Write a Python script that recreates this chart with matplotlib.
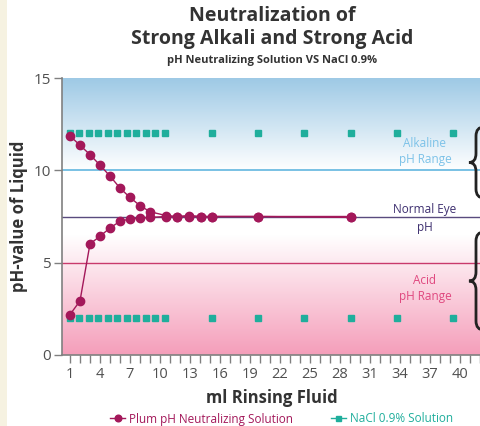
import numpy as np
import matplotlib
matplotlib.use("Agg")
import matplotlib.pyplot as plt
from matplotlib.path import Path
from matplotlib.patches import PathPatch, Rectangle
from matplotlib.ticker import FixedLocator, FuncFormatter

plt.rcParams['font.family'] = ['Open Sans', 'DejaVu Sans']

# datos
ml_plum = [1, 2, 3, 4, 5, 6, 7, 8, 9, 10.6, 11.7, 12.9, 14.1, 15.2, 19.8, 29.1]
ph_alkali = [11.86, 11.36, 10.85, 10.28, 9.69, 9.04, 8.53, 8.09, 7.76, 7.55,
             7.5, 7.55, 7.5, 7.5, 7.5, 7.45]
ph_acid = [2.19, 2.93, 6.02, 6.43, 6.88, 7.24, 7.37, 7.4, 7.45, 7.5,
           7.5, 7.5, 7.5, 7.5, 7.5, 7.5]
ml_nacl = [1, 1.95, 2.9, 3.85, 4.8, 5.75, 6.7, 7.65, 8.6, 9.55, 10.5,
           15.2, 19.8, 24.4, 29.1, 33.7, 39.3]
ph_nacl_high = [12] * len(ml_nacl)
ph_nacl_low = [2] * len(ml_nacl)

x_labels = list(range(1, 41, 3))
y_ticks = [0, 5, 10, 15]

plum = '#a3185a'
teal = '#1fae9c'

fig = plt.figure(figsize=(4.81, 4.26), dpi=100)
fig.patch.set_facecolor('white')
fig.add_artist(Rectangle((0, 0), 7 / 481, 1, transform=fig.transFigure,
                         facecolor='#f6f2e1', edgecolor='none', zorder=-5))

ax = fig.add_axes([62 / 481, 1 - 355 / 426, 1 - 62 / 481 + 0.002, (355 - 78) / 426])
xmin, xmax = 0.2, 42.2
ax.set_xlim(xmin, xmax)
ax.set_ylim(0, 15)

# fondo degradado: azul arriba, rosa abajo
yy = np.linspace(0, 15, 400)
blue = np.array([0.62, 0.79, 0.90])
pink = np.array([0.96, 0.62, 0.73])
white = np.array([1.0, 1.0, 1.0])
img = np.zeros((len(yy), 2, 3))
for i, y in enumerate(yy):
    if y > 10:
        f = (y - 10) / 5
        c = white * (1 - f) + blue * f
    elif y < 6.5:
        f = (6.5 - y) / 6.5
        c = white * (1 - f) + pink * f
    else:
        c = white
    img[i, :, :] = c
ax.imshow(img, extent=[xmin, xmax, 0, 15], aspect='auto', origin='lower', zorder=0)

ax.axhline(10, color='#62b7df', lw=1.2, zorder=1)
ax.axhline(7.5, color='#594b7e', lw=1.0, zorder=1)
ax.axhline(5, color='#c93a6c', lw=1.0, zorder=1)

ax.plot(ml_nacl, ph_nacl_high, 's', color=teal, ms=4.5, zorder=3,
        label='NaCl 0.9% Solution')
ax.plot(ml_nacl, ph_nacl_low, 's', color=teal, ms=4.5, zorder=3)
ax.plot(ml_plum, ph_alkali, '-o', color=plum, ms=6, lw=1, zorder=4,
        label='Plum pH Neutralizing Solution')
ax.plot(ml_plum, ph_acid, '-o', color=plum, ms=6, lw=1, zorder=4)

ax.text(36.5, 11.0, 'Alkaline\npH Range', color='#7cc2e8', fontsize=8.5,
        ha='center', va='center', linespacing=1.3)
ax.text(36.5, 7.4, 'Normal Eye\npH', color='#3e3070', fontsize=8.5,
        ha='center', va='center', linespacing=1.5)
ax.text(36.5, 3.6, 'Acid\npH Range', color='#e0487f', fontsize=8.5,
        ha='center', va='center', linespacing=1.3)

for side in ['top', 'right']:
    ax.spines[side].set_visible(False)
for side in ['left', 'bottom']:
    ax.spines[side].set_color('#808080')
    ax.spines[side].set_linewidth(1.2)

ax.set_yticks(y_ticks)
ax.xaxis.set_major_locator(FixedLocator(list(range(1, 43))))
ax.xaxis.set_major_formatter(FuncFormatter(
    lambda v, p: str(int(v)) if int(v) in x_labels else ''))
ax.tick_params(axis='both', direction='out', length=6, width=1, colors='#808080',
               labelcolor='#505050')
ax.tick_params(axis='x', labelsize=10.5, pad=3)
ax.tick_params(axis='y', labelsize=11, pad=2)

ax.set_xlabel('ml Rinsing Fluid', fontsize=12, fontweight='bold', color='#333333',
              labelpad=5)
ax.set_ylabel('pH-value of Liquid', fontsize=12, fontweight='bold', color='#333333',
              labelpad=4)


def brace(y_top, y_bot, x_tip=469, x_mid=476, x_end=484, r=9):
    # llave "{" en pixeles de la figura
    w, h = fig.bbox.width, fig.bbox.height
    ym = (y_top + y_bot) / 2
    pts = [(x_end, y_top), (x_mid, y_top), (x_mid, y_top + r),
           (x_mid, ym - r),
           (x_mid, ym), (x_tip, ym),
           (x_mid, ym), (x_mid, ym + r),
           (x_mid, y_bot - r),
           (x_mid, y_bot), (x_end, y_bot)]
    pts = [(px / w, 1 - py / h) for px, py in pts]
    codes = [Path.MOVETO, Path.CURVE3, Path.CURVE3,
             Path.LINETO,
             Path.CURVE3, Path.CURVE3,
             Path.CURVE3, Path.CURVE3,
             Path.LINETO,
             Path.CURVE3, Path.CURVE3]
    fig.add_artist(PathPatch(Path(pts, codes), transform=fig.transFigure,
                             facecolor='none', edgecolor='#222222', lw=2.0))


brace(127, 198)
brace(232, 330)

fig.text(0.565, 1 - 16 / 426, 'Neutralization of', ha='center', va='center',
         fontsize=14, fontweight='bold', color='#333333')
fig.text(0.565, 1 - 39 / 426, 'Strong Alkali and Strong Acid', ha='center',
         va='center', fontsize=14, fontweight='bold', color='#333333')
fig.text(0.565, 1 - 61 / 426, 'pH Neutralizing Solution VS NaCl 0.9%', ha='center',
         va='center', fontsize=8, fontweight='bold', color='#333333')

handles, labels = ax.get_legend_handles_labels()
leg = fig.legend(handles[::-1], labels[::-1], loc='center', ncol=2,
                 bbox_to_anchor=(0.585, 1 - 419 / 426), frameon=False, fontsize=8.5,
                 handlelength=1.3, handletextpad=0.3, columnspacing=3.2,
                 labelcolor='linecolor', markerscale=0.8)
leg.legend_handles[1].set_linestyle('-')
leg.legend_handles[1].set_linewidth(1)

fig.savefig('out.png', dpi=100)
